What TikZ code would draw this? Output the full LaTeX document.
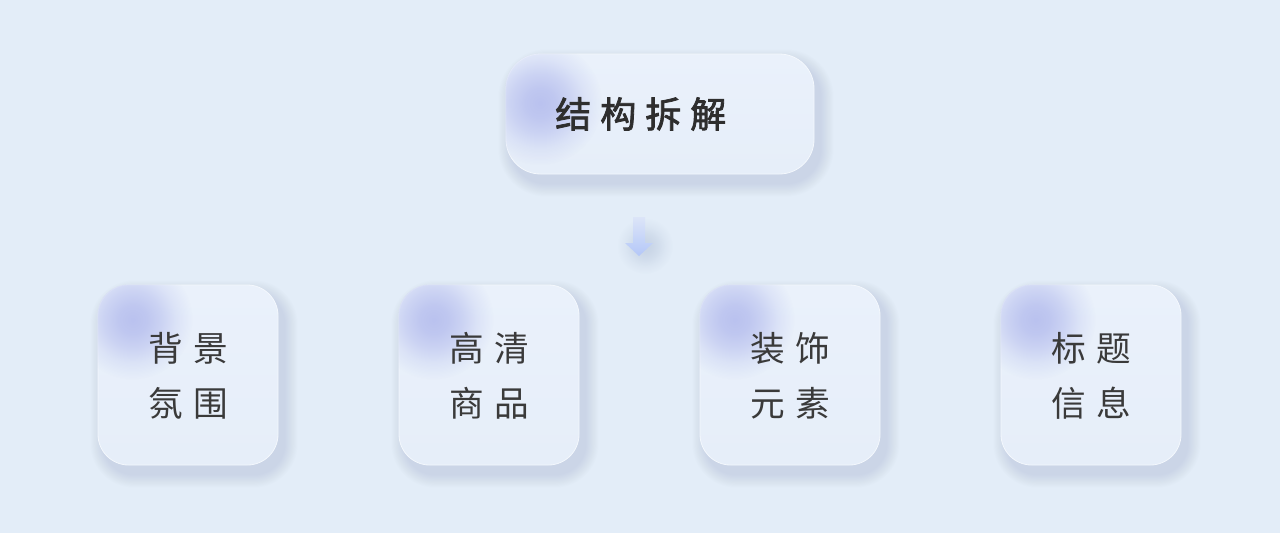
\documentclass[tikz,border=0pt]{standalone}
\usepackage{fontspec}
\newfontfamily\cjk{Noto Sans CJK SC}
\newfontfamily\cjkm[FakeBold=2.2]{Noto Sans CJK SC}
\usetikzlibrary{fadings,calc}
\definecolor{bg}{HTML}{E3EDF8}
\definecolor{boxtop}{HTML}{EAF1FB}
\definecolor{boxbot}{HTML}{E6EEF9}
\definecolor{blob}{HTML}{BAC2EF}
\definecolor{shadowc}{HTML}{8A9CBC}
\definecolor{txt}{HTML}{2E2E2E}
\definecolor{subtxt}{HTML}{3A3A3A}
\definecolor{arrowtop}{HTML}{DCE5F8}
\definecolor{arrowbot}{HTML}{B4C7F8}
\pgfdeclareradialshading{blobsh}{\pgfpointorigin}{color(0bp)=(white); color(6bp)=(white!88!black); color(12bp)=(white!62!black); color(18bp)=(white!28!black); color(25bp)=(black); color(50bp)=(black)}
\pgfdeclarefading{blobfade}{\pgfuseshading{blobsh}}
\newcommand\cardshadow[2]{%
  \foreach \k in {1,...,12}{%
    \fill[shadowc, opacity=0.02, rounded corners=#2+\k*0.8pt]
      ($(#1.north west)+(6-\k*1.1,9-\k*1.1)$) rectangle ($(#1.south east)+(6+\k*1.1,9+\k*1.1)$);
  }}
\begin{document}
\begin{tikzpicture}[x=0.75pt,y=-0.75pt,
  topsize/.style={minimum width=231pt, minimum height=90pt, inner sep=0pt},
  subsize/.style={minimum width=135pt, minimum height=135pt, inner sep=0pt},
  card/.style={top color=boxtop, bottom color=boxbot, draw=white!50!boxtop, line width=0.6pt},
  topcard/.style={card, topsize, rounded corners=26pt},
  subcard/.style={card, subsize, rounded corners=23pt},
  blobfill/.style={fill=blob, path fading=blobfade},
  toptext/.style={font=\cjkm\fontsize{27}{30}\selectfont, text=txt, inner sep=0pt},
  subtext/.style={font=\cjk\fontsize{26}{41}\selectfont, text=subtxt, align=center, inner sep=0pt}]
\fill[bg] (0,0) rectangle (1280,533);
\useasboundingbox (0,0) rectangle (1280,533);
% top card
\coordinate (topc) at (660,114);
\path (topc) node[topsize] (topg) {};
\cardshadow{topg}{26pt}
\node[topcard] (top) at (topc) {};
\begin{scope}
  \clip[rounded corners=26pt] (top.north west) rectangle (top.south east);
  \fill[blobfill] (540,103) circle (62);
\end{scope}
\node[toptext, anchor=west] (toplbl) at (555,114) {结\kern6.75pt 构\kern6.75pt 拆\kern6.75pt 解};
% arrow
\coordinate (arr) at (645,246);
\fill[shadowc, opacity=0.3, path fading=blobfade] (arr) circle (28);
\shade[top color=arrowtop, bottom color=arrowbot]
  (633,217) -- (645,217) -- (645,243) -- (653,243) -- (639,256) -- (625,243) -- (633,243) -- cycle;
% sub cards
\foreach \n/\cx/\a/\b/\c/\d in {b1/188/背/景/氛/围, b2/489/高/清/商/品, b3/790/装/饰/元/素, b4/1091/标/题/信/息}{
  \path (\cx,375) node[subsize] (\n g) {};
  \cardshadow{\n g}{23pt}
  \node[subcard] (\n) at (\cx,375) {};
  \begin{scope}
    \clip[rounded corners=23pt] (\n.north west) rectangle (\n.south east);
    \fill[blobfill] ($(\n.north west)+(35,35)$) circle (60);
  \end{scope}
  \node[subtext] (\n t) at (\cx,376) {\a\kern8pt \b\\\c\kern8pt \d};
}
\end{tikzpicture}
\end{document}
